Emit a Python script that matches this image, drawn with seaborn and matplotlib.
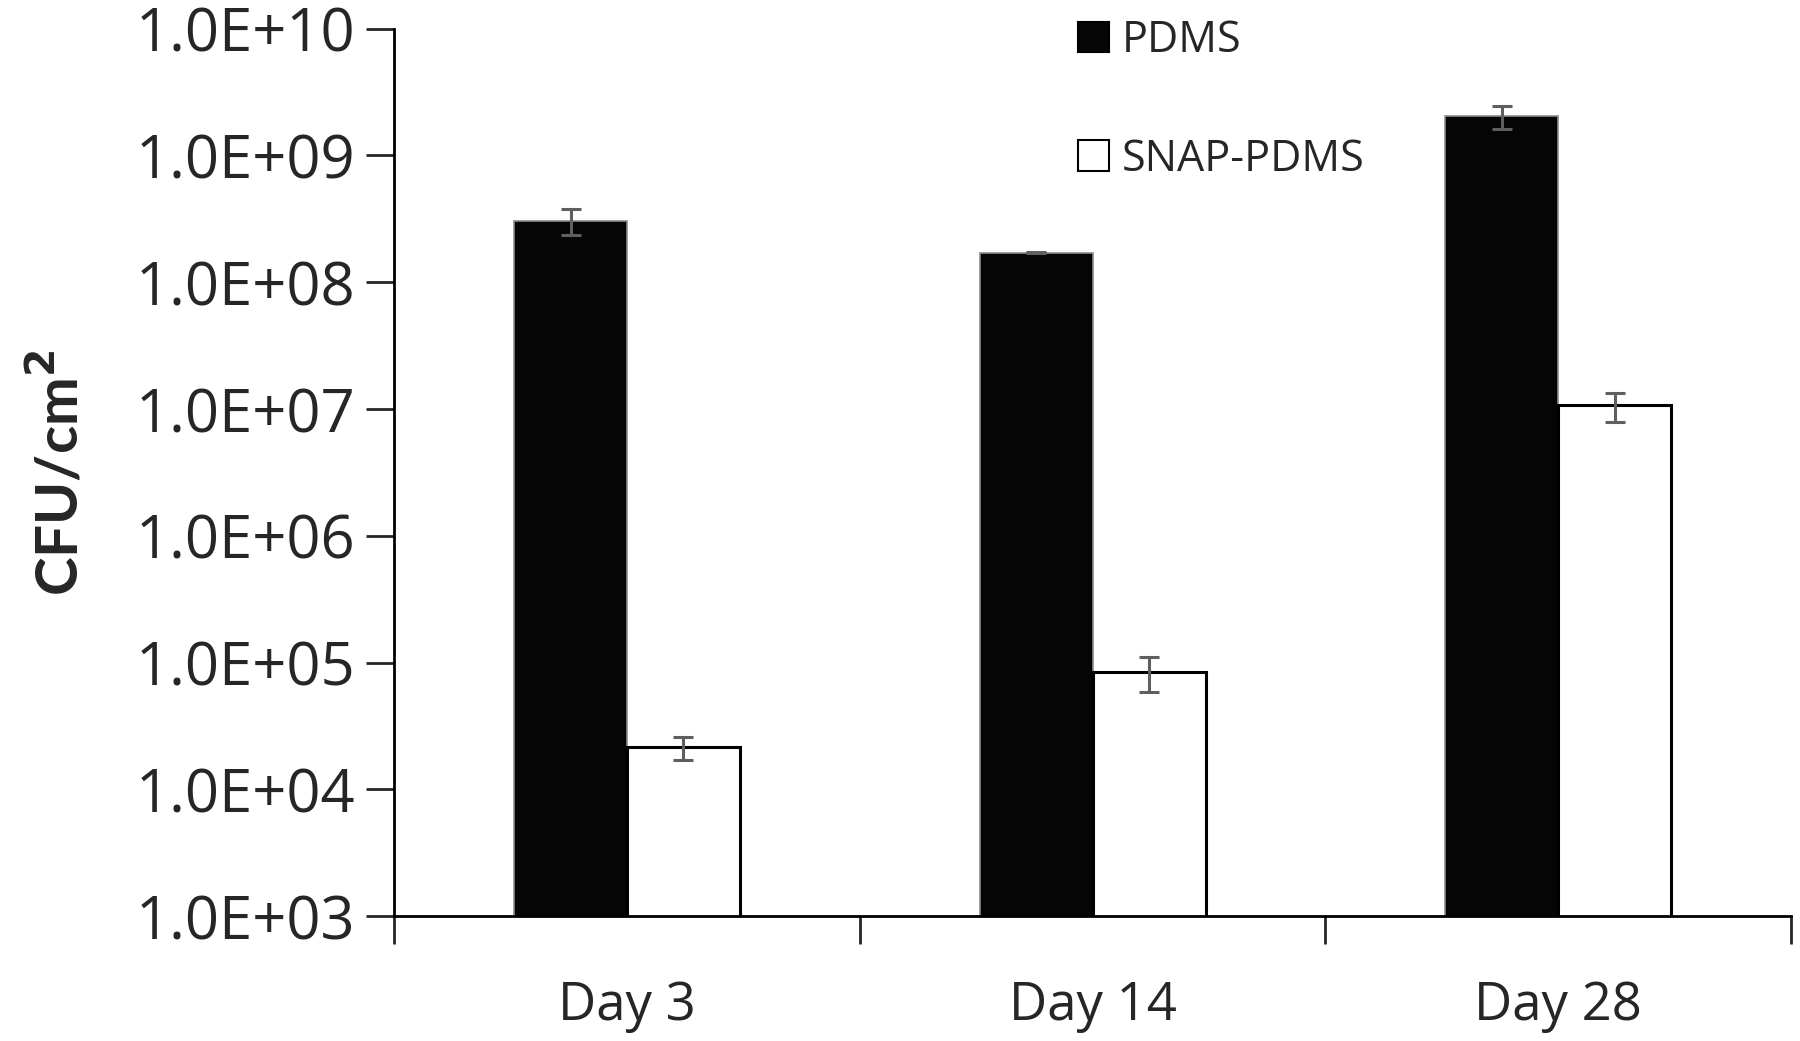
import numpy as np
import pandas as pd
import matplotlib
matplotlib.use('Agg')
import matplotlib.pyplot as plt
import seaborn as sns
from matplotlib.ticker import FuncFormatter, FixedLocator

days = ['Day 3', 'Day 14', 'Day 28']
groups = ['PDMS', 'SNAP-PDMS']
pdms_vals = [3.07e8, 1.71e8, 2.05e9]
pdms_err = [0.70e8, 0.02e8, 0.42e9]
snap_vals = [2.14e4, 8.47e4, 1.07e7]
snap_err = [0.45e4, 2.6e4, 0.28e7]

df = pd.DataFrame({
    'Day': days * 2,
    'Group': [groups[0]] * 3 + [groups[1]] * 3,
    'CFU': pdms_vals + snap_vals,
    'err': pdms_err + snap_err,
})

sns.set_style('white')
plt.rcParams['font.family'] = ['Open Sans', 'DejaVu Sans']

fig = plt.figure(figsize=(18, 10.41), dpi=100)
ax = fig.add_axes([0.219, 0.12, 0.776, 0.8524])
ax.set_yscale('log')

sns.barplot(data=df, x='Day', y='CFU', hue='Group', order=days, hue_order=groups,
            palette={'PDMS': '#050505', 'SNAP-PDMS': '#ffffff'}, width=0.485,
            errorbar=None, ax=ax, legend=True)

# edges and error bars taken from the drawn bars
for i, bar in enumerate(ax.patches[:6]):
    g = i // 3
    if g == 0:
        bar.set_edgecolor('#8c8c8c')
        bar.set_linewidth(1.2)
    else:
        bar.set_edgecolor('black')
        bar.set_linewidth(2.2)
    xc = bar.get_x() + bar.get_width() / 2
    ax.errorbar(xc, df['CFU'].iloc[i], yerr=df['err'].iloc[i], fmt='none',
                ecolor='#5f5f5f', elinewidth=2.2, capsize=7, capthick=2.2, zorder=5)

ax.set_ylim(1e3, 1e10)
ax.yaxis.set_major_locator(FixedLocator([10.0 ** k for k in range(3, 11)]))
ax.yaxis.set_minor_locator(FixedLocator([]))
ax.yaxis.set_major_formatter(FuncFormatter(lambda v, p: f'{v:.1E}'))
ax.set_xlim(-0.5, 2.5)

sns.despine(ax=ax, top=True, right=True)
for s in ['left', 'bottom']:
    ax.spines[s].set_color('black')
    ax.spines[s].set_linewidth(2)

ax.tick_params(axis='y', which='major', direction='out', length=20, width=2,
               labelsize=43, pad=8, left=True)
ax.tick_params(axis='x', which='major', length=0, labelsize=38, pad=46)
ax.set_xticks(range(3))
ax.set_xticklabels(days)
ax.set_xticks([-0.5, 0.5, 1.5, 2.5], minor=True)
ax.tick_params(axis='x', which='minor', direction='out', length=20, width=2, bottom=True)

ax.set_xlabel('')
ax.set_ylabel('CFU/cm$^\\mathbf{2}$', fontsize=42, fontweight='bold', labelpad=34,
              family=['Lato', 'DejaVu Sans'])

handles, labels = ax.get_legend_handles_labels()
for h in handles:
    h.set_edgecolor('black')
    h.set_linewidth(1.5)
ax.legend(handles, labels, loc='upper left', bbox_to_anchor=(0.462, 1.055), frameon=False,
          fontsize=31, handlelength=0.72, handleheight=0.72, labelspacing=1.72,
          handletextpad=0.3)

fig.savefig('out.png', dpi=100)
